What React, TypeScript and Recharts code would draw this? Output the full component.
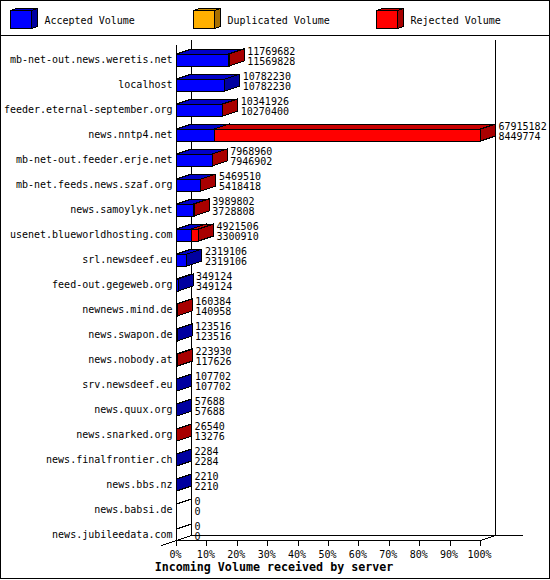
import React from "react";
import { BarChart, Bar, XAxis, YAxis, Legend, LabelList } from "recharts";

const servers = [
  "mb-net-out.news.weretis.net", "localhost", "feeder.eternal-september.org", "news.nntp4.net",
  "mb-net-out.feeder.erje.net", "mb-net.feeds.news.szaf.org", "news.samoylyk.net",
  "usenet.blueworldhosting.com", "srl.newsdeef.eu", "feed-out.gegeweb.org", "newnews.mind.de",
  "news.swapon.de", "news.nobody.at", "srv.newsdeef.eu", "news.quux.org", "news.snarked.org",
  "news.finalfrontier.ch", "news.bbs.nz", "news.babsi.de", "news.jubileedata.com",
];
const totals = [
  11769682, 10782230, 10341926, 67915182, 7968960, 5469510, 3989802, 4921506, 2319106, 349124,
  160384, 123516, 223930, 107702, 57688, 26540, 2284, 2210, 0, 0,
];
const accepted = [
  11569828, 10782230, 10270400, 8449774, 7946902, 5418418, 3728808, 3300910, 2319106, 349124,
  140958, 123516, 117626, 107702, 57688, 13276, 2284, 2210, 0, 0,
];
const duplicated = [0, 0, 0, 0, 0, 0, 0, 0, 0, 0, 0, 0, 0, 0, 0, 0, 0, 0, 0, 0];
const percentTicks = [0, 10, 20, 30, 40, 50, 60, 70, 80, 90, 100];

const maxTotal = 67915182;
const rows = servers.map((name, i) => ({
  name,
  total: totals[i],
  accepted: accepted[i],
  duplicated: duplicated[i],
  rejected: totals[i] - accepted[i] - duplicated[i],
}));

const MONO = "'DejaVu Sans Mono', monospace";
const DX = 15;
const DY = 5;
const DARK: Record<string, { top: string; side: string }> = {
  "#0000ff": { top: "#0000c8", side: "#0000a0" },
  "#ffb000": { top: "#c88c00", side: "#a87000" },
  "#ff0000": { top: "#c80000", side: "#a80000" },
};

function Bar3D(props: any) {
  const { x, y, width, height, fill, payload, dataKey } = props;
  if (payload.total === 0) {
    if (dataKey !== "accepted") return null;
    return <line x1={x} y1={y} x2={x + DX} y2={y - DY} stroke="#000" shapeRendering="crispEdges" />;
  }
  if (!(width > 0)) return null;
  const t = y;
  const b = t + height;
  const r = x + width;
  const d = DARK[fill];
  return (
    <g stroke="#000" strokeWidth={1} shapeRendering="crispEdges">
      <polygon points={`${x},${t} ${x + DX},${t - DY} ${r + DX},${t - DY} ${r},${t}`} fill={d.top} />
      <polygon points={`${r},${t} ${r + DX},${t - DY} ${r + DX},${b - DY} ${r},${b}`} fill={d.side} />
      <rect x={x} y={t} width={width} height={height} fill={fill} />
    </g>
  );
}

function ValueLabel(props: any) {
  const { x, y, width, index } = props;
  const tx = x + width + DX + 3;
  return (
    <g fontFamily={MONO} fontSize={10} fill="#000">
      <text x={tx} y={y + 0.5}>{totals[index]}</text>
      <text x={tx} y={y + 11}>{accepted[index]}</text>
    </g>
  );
}

function PercentTick(props: any) {
  const { x, y, index } = props;
  const top = y - 6.5;
  return (
    <g>
      <line x1={x} y1={top} x2={x} y2={top + 5} stroke="#000" shapeRendering="crispEdges" />
      <text x={x - 1} y={y + 11} textAnchor="middle" fontFamily={MONO} fontSize={10} fill="#000">
        {percentTicks[index]}%
      </text>
    </g>
  );
}

function AxisTitle() {
  return (
    <text x={274} y={571} textAnchor="middle" fontFamily={MONO} fontSize={11.67} fontWeight="bold" fill="#000">
      Incoming Volume received by server
    </text>
  );
}

function LegendCubes(props: any) {
  const items = props.payload || [];
  return (
    <svg width={550} height={36} style={{ display: "block" }}>
      {items.map((it: any, i: number) => {
        const left = 10.5 + i * 183;
        const d = DARK[it.color];
        return (
          <g key={it.value} stroke="#000" shapeRendering="crispEdges">
            <polygon points={`${left},10.5 ${left + 6},8.5 ${left + 27},8.5 ${left + 21},10.5`} fill={d.top} />
            <polygon points={`${left + 21},10.5 ${left + 27},8.5 ${left + 27},26.5 ${left + 21},28.5`} fill={d.side} />
            <rect x={left} y={10.5} width={21} height={18} fill={it.color} />
            <text x={left + 34} y={23.5} stroke="none" fill="#000" fontFamily={MONO} fontSize={10} shapeRendering="auto">
              {it.value}
            </text>
          </g>
        );
      })}
    </svg>
  );
}

export default function App() {
  return (
    <div style={{ position: "absolute", left: 0, top: 0, width: 550, height: 580, background: "#fff" }}>
      <BarChart
        width={550}
        height={580}
        data={rows}
        layout="vertical"
        barCategoryGap={0}
        margin={{ top: 47, right: 69.5, bottom: 0, left: 0 }}
      >
        <rect x={0.5} y={0.5} width={549} height={578} fill="#fff" stroke="#000" shapeRendering="crispEdges" />
        <line x1={0} y1={35.5} x2={550} y2={35.5} stroke="#000" shapeRendering="crispEdges" />
        <Legend
          layout="horizontal"
          align="center"
          verticalAlign="middle"
          content={<LegendCubes />}
          wrapperStyle={{ left: 0, top: 0, width: 550, height: 36 }}
        />
        <line x1={191.5} y1={40} x2={191.5} y2={535.5} stroke="#000" shapeRendering="crispEdges" />
        <line x1={495.5} y1={40} x2={495.5} y2={535.5} stroke="#000" shapeRendering="crispEdges" />
        <line x1={191.5} y1={535.5} x2={523} y2={535.5} stroke="#000" shapeRendering="crispEdges" />
        <line x1={176.5} y1={540.5} x2={480.5} y2={540.5} stroke="#000" shapeRendering="crispEdges" />
        <line x1={161} y1={545.7} x2={191.5} y2={535.5} stroke="#000" shapeRendering="crispEdges" />
        <line x1={480.5} y1={540.5} x2={495.5} y2={535.5} stroke="#000" shapeRendering="crispEdges" />
        <XAxis
          type="number"
          domain={[0, maxTotal]}
          ticks={percentTicks.map((p) => (p * maxTotal) / 100)}
          interval={0}
          axisLine={false}
          tickLine={false}
          tickSize={0}
          tickMargin={0}
          height={33}
          tick={<PercentTick />}
          label={AxisTitle}
        />
        <YAxis
          type="category"
          dataKey="name"
          width={176.5}
          interval={0}
          axisLine={false}
          tickLine={false}
          tickSize={0}
          tickMargin={4}
          tick={{ fill: "#000", fontSize: 10, fontFamily: MONO }}
        />
        <Bar dataKey="accepted" name="Accepted Volume" stackId="v" fill="#0000ff" barSize={12} shape={<Bar3D />} isAnimationActive={false} />
        <Bar dataKey="duplicated" name="Duplicated Volume" stackId="v" fill="#ffb000" barSize={12} shape={<Bar3D />} isAnimationActive={false} />
        <Bar dataKey="rejected" name="Rejected Volume" stackId="v" fill="#ff0000" barSize={12} shape={<Bar3D />} isAnimationActive={false}>
          <LabelList dataKey="total" content={<ValueLabel />} />
        </Bar>
        <line x1={176.5} y1={45} x2={176.5} y2={540.5} stroke="#000" shapeRendering="crispEdges" />
      </BarChart>
    </div>
  );
}
